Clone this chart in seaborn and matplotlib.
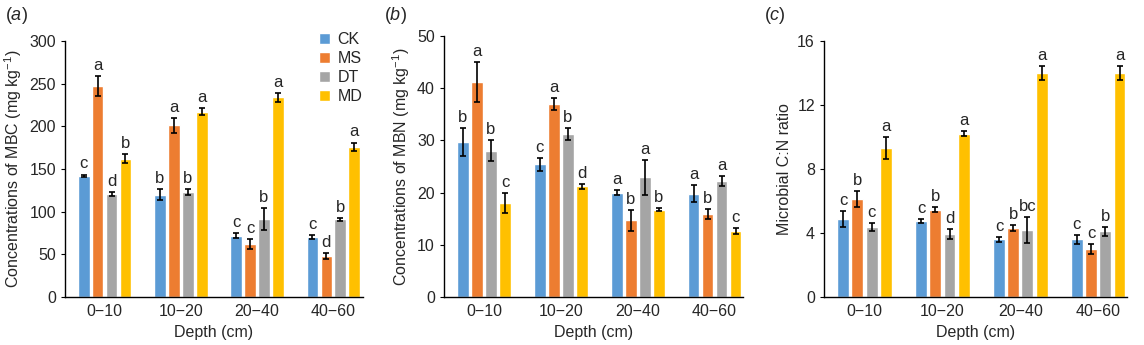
import numpy as np
import pandas as pd
import seaborn as sns
import matplotlib
matplotlib.use("Agg")
import matplotlib.pyplot as plt

depths = ["0\u221210", "10\u221220", "20\u221240", "40\u221260"]
treatments = ["CK", "MS", "DT", "MD"]
colors = ["#5B9BD5", "#ED7D31", "#A5A5A5", "#FFC000"]

# Panel (a) MBC
mbc_ck = [142, 120, 72, 70]
mbc_ms = [247, 201, 62, 48]
mbc_dt = [121, 123, 91, 91]
mbc_md = [162, 217, 234, 176]
mbc_err_ck = [1.5, 6, 2.5, 2.5]
mbc_err_ms = [12, 8.5, 6, 3]
mbc_err_dt = [2.5, 4, 13, 1.5]
mbc_err_md = [5, 4, 5, 5]
mbc_let_ck = ["c", "b", "c", "c"]
mbc_let_ms = ["a", "a", "c", "d"]
mbc_let_dt = ["d", "b", "b", "b"]
mbc_let_md = ["b", "a", "a", "a"]

# Panel (b) MBN
mbn_ck = [29.7, 25.4, 20.0, 19.8]
mbn_ms = [41.2, 37.0, 14.7, 15.9]
mbn_dt = [28.0, 31.2, 22.9, 22.2]
mbn_md = [18.0, 21.2, 16.7, 12.6]
mbn_err_ck = [2.6, 1.2, 0.5, 1.6]
mbn_err_ms = [3.8, 1.1, 2.0, 0.9]
mbn_err_dt = [2.0, 1.2, 3.3, 1.0]
mbn_err_md = [1.9, 0.5, 0.3, 0.6]
mbn_let_ck = ["b", "c", "a", "a"]
mbn_let_ms = ["a", "a", "b", "b"]
mbn_let_dt = ["b", "b", "a", "a"]
mbn_let_md = ["c", "d", "b", "c"]

# Panel (c) C:N ratio
cn_ck = [4.9, 4.75, 3.6, 3.6]
cn_ms = [6.1, 5.45, 4.3, 3.0]
cn_dt = [4.4, 3.95, 4.2, 4.1]
cn_md = [9.3, 10.2, 14.0, 14.0]
cn_err_ck = [0.5, 0.15, 0.15, 0.3]
cn_err_ms = [0.5, 0.15, 0.2, 0.3]
cn_err_dt = [0.25, 0.3, 0.8, 0.3]
cn_err_md = [0.7, 0.15, 0.45, 0.45]
cn_let_ck = ["c", "c", "c", "c"]
cn_let_ms = ["b", "b", "b", "c"]
cn_let_dt = ["c", "d", "bc", "b"]
cn_let_md = ["a", "a", "a", "a"]

sns.set_style("ticks")
plt.rcParams["font.family"] = ["Liberation Sans", "DejaVu Sans"]
plt.rcParams["mathtext.fontset"] = "custom"
plt.rcParams["mathtext.rm"] = "Liberation Sans"
plt.rcParams["mathtext.it"] = "Liberation Sans:italic"

W, H = 1144, 345
fig = plt.figure(figsize=(W / 100, H / 100), dpi=100)


def make_df(vals):
    rows = []
    for t, v in zip(treatments, vals):
        for d, x in zip(depths, v):
            rows.append({"Depth": d, "Treatment": t, "Value": x})
    return pd.DataFrame(rows)


panels = [
    dict(rect=(65, 41, 363, 297), vals=[mbc_ck, mbc_ms, mbc_dt, mbc_md],
         errs=[mbc_err_ck, mbc_err_ms, mbc_err_dt, mbc_err_md],
         lets=[mbc_let_ck, mbc_let_ms, mbc_let_dt, mbc_let_md],
         ylim=300, step=50, ylabel="Concentrations of MBC (mg kg$^{\\mathregular{-1}}$)",
         tag="a", legend=True, xlim=(-0.52, 3.39)),
    dict(rect=(444, 36, 743, 297), vals=[mbn_ck, mbn_ms, mbn_dt, mbn_md],
         errs=[mbn_err_ck, mbn_err_ms, mbn_err_dt, mbn_err_md],
         lets=[mbn_let_ck, mbn_let_ms, mbn_let_dt, mbn_let_md],
         ylim=50, step=10, ylabel="Concentrations of MBN (mg kg$^{\\mathregular{-1}}$)",
         tag="b", legend=False, xlim=(-0.52, 3.37)),
    dict(rect=(824, 41, 1127, 297), vals=[cn_ck, cn_ms, cn_dt, cn_md],
         errs=[cn_err_ck, cn_err_ms, cn_err_dt, cn_err_md],
         lets=[cn_let_ck, cn_let_ms, cn_let_dt, cn_let_md],
         ylim=16, step=4, ylabel="Microbial C:N ratio",
         tag="c", legend=False, xlim=(-0.52, 3.37)),
]

for p in panels:
    x0, y0, x1, y1 = p["rect"]
    ax = fig.add_axes([x0 / W, (H - y1) / H, (x1 - x0) / W, (y1 - y0) / H])
    df = make_df(p["vals"])
    sns.barplot(data=df, x="Depth", y="Value", hue="Treatment", palette=colors,
                width=0.73, gap=0.165, errorbar=None, ax=ax, saturation=1,
                legend=p["legend"])
    ymax = p["ylim"]
    for cont, err, lets in zip(ax.containers, p["errs"], p["lets"]):
        for bar, e, l in zip(cont.patches, err, lets):
            xc = bar.get_x() + bar.get_width() / 2
            h = bar.get_height()
            ax.errorbar(xc, h, yerr=e, fmt="none", ecolor="black", elinewidth=1.2,
                        capsize=2.5, capthick=1.2)
            ax.text(xc, h + e + ymax * 0.012, l, ha="center", va="bottom", fontsize=12)
    ax.set_ylim(0, ymax)
    ax.set_yticks(np.arange(0, ymax + 0.001, p["step"]))
    ax.set_xlim(*p["xlim"])
    ax.set_xlabel("Depth (cm)", fontsize=11.5)
    ax.set_ylabel(p["ylabel"], fontsize=11.5)
    ax.tick_params(axis="y", labelsize=11.5, length=3, color="black")
    ax.tick_params(axis="x", labelsize=11.5, length=0, pad=5)
    sns.despine(ax=ax)
    for s in ["left", "bottom"]:
        ax.spines[s].set_color("black")
        ax.spines[s].set_linewidth(1.0)
    if p["legend"]:
        leg = ax.legend(loc="upper right", bbox_to_anchor=(1.02, 1.06), frameon=False,
                        fontsize=11.5, handlelength=0.7, handleheight=0.7,
                        handletextpad=0.5, labelspacing=0.25, borderaxespad=0)
    fig.text((x0 - 60) / W, 1 - 16 / H, "($\\mathit{%s}$)" % p["tag"], fontsize=13,
             ha="left", va="center")

fig.savefig("out.png", dpi=100)
